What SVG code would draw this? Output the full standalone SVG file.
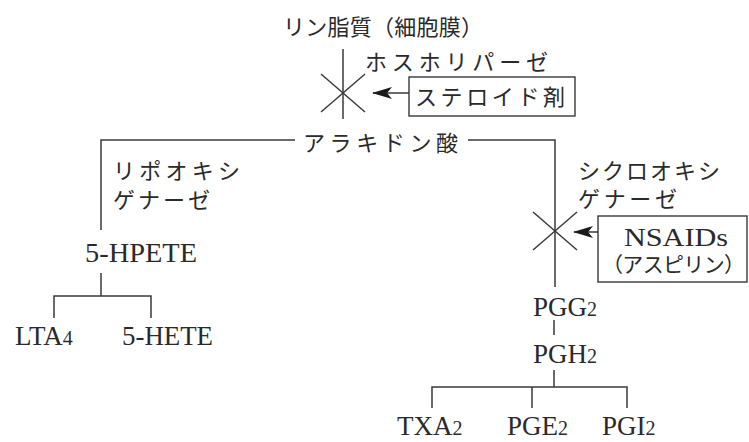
<svg xmlns="http://www.w3.org/2000/svg" width="749" height="442" viewBox="0 0 749 442">
<style>
.jp{font-family:"Liberation Serif","Noto Sans CJK JP",serif;font-size:22px;fill:#2a2a2a}
.en{font-family:"Liberation Serif","Noto Sans CJK JP",serif;font-size:27px;fill:#2a2a2a}
.sub{font-size:20px}
.ln{stroke:#3a3a3a;stroke-width:1.5;fill:none}
.bx{stroke:#2a2a2a;stroke-width:1.3;fill:#fff}
</style>
<defs>
<marker id="ah" viewBox="0 0 20 12" refX="19" refY="6" markerWidth="20" markerHeight="12" markerUnits="userSpaceOnUse" orient="auto">
<path d="M20,6 L0,0 L5,6 L0,12 Z" fill="#1a1a1a"/>
</marker>
</defs>
<rect width="749" height="442" fill="#fff"/>
<g id="connectors">
<line class="ln" x1="343" y1="49" x2="343" y2="119"/>
<line class="ln" x1="321" y1="74" x2="365" y2="112"/>
<line class="ln" x1="365" y1="74" x2="321" y2="112"/>
<line class="ln" x1="409" y1="93" x2="373" y2="93" marker-end="url(#ah)"/>
<polyline class="ln" points="295,140 101,140 101,230"/>
<polyline class="ln" points="468,140 555,140 555,287"/>
<line class="ln" x1="533" y1="212" x2="577" y2="250"/>
<line class="ln" x1="577" y1="212" x2="533" y2="250"/>
<line class="ln" x1="598" y1="232" x2="574" y2="232" marker-end="url(#ah)"/>
<line class="ln" x1="101" y1="273" x2="101" y2="296"/>
<polyline class="ln" points="54,318 54,296 151,296 151,318"/>
<line class="ln" x1="554" y1="320" x2="554" y2="335"/>
<line class="ln" x1="554" y1="370" x2="554" y2="387"/>
<polyline class="ln" points="432,408 432,387 627,387 627,408"/>
<line class="ln" x1="532" y1="387" x2="532" y2="408"/>
</g>
<g id="phospholipid"><text class="jp" x="283" y="35" textLength="200" lengthAdjust="spacing">リン脂質（細胞膜）</text></g>
<g id="phospholipase"><text class="jp" x="365" y="70" textLength="183" lengthAdjust="spacing">ホスホリパーゼ</text></g>
<g id="steroid"><rect class="bx" x="409" y="77" width="166" height="39"/><text class="jp" x="415" y="105" textLength="150" lengthAdjust="spacing">ステロイド剤</text></g>
<g id="arachidonic"><text class="jp" x="303" y="151" textLength="155" lengthAdjust="spacing">アラキドン酸</text></g>
<g id="lipoxygenase"><text class="jp" x="113" y="179" textLength="127" lengthAdjust="spacing">リポオキシ</text><text class="jp" x="113" y="208" textLength="97" lengthAdjust="spacing">ゲナーゼ</text></g>
<g id="cyclooxygenase"><text class="jp" x="578" y="179" textLength="142" lengthAdjust="spacing">シクロオキシ</text><text class="jp" x="578" y="207" textLength="99" lengthAdjust="spacing">ゲナーゼ</text></g>
<g id="nsaids"><rect class="bx" x="598" y="216" width="149" height="66"/><text class="en" x="624" y="246" style="font-size:25px" textLength="104" lengthAdjust="spacingAndGlyphs">NSAIDs</text><text class="jp" x="602" y="272" style="font-size:21px" textLength="143" lengthAdjust="spacing">（アスピリン）</text></g>
<g id="hpete"><text class="en" x="85" y="262" textLength="112" lengthAdjust="spacingAndGlyphs">5-HPETE</text></g>
<g id="lta4"><text class="en" x="15" y="345">LTA<tspan class="sub">4</tspan></text></g>
<g id="hete"><text class="en" x="122" y="345" textLength="91" lengthAdjust="spacingAndGlyphs">5-HETE</text></g>
<g id="pgg2"><text class="en" x="533" y="316">PGG<tspan class="sub">2</tspan></text></g>
<g id="pgh2"><text class="en" x="533" y="363">PGH<tspan class="sub">2</tspan></text></g>
<g id="txa2"><text class="en" x="397" y="435">TXA<tspan class="sub">2</tspan></text></g>
<g id="pge2"><text class="en" x="507" y="435">PGE<tspan class="sub">2</tspan></text></g>
<g id="pgi2"><text class="en" x="602" y="435">PGI<tspan class="sub">2</tspan></text></g>
</svg>
